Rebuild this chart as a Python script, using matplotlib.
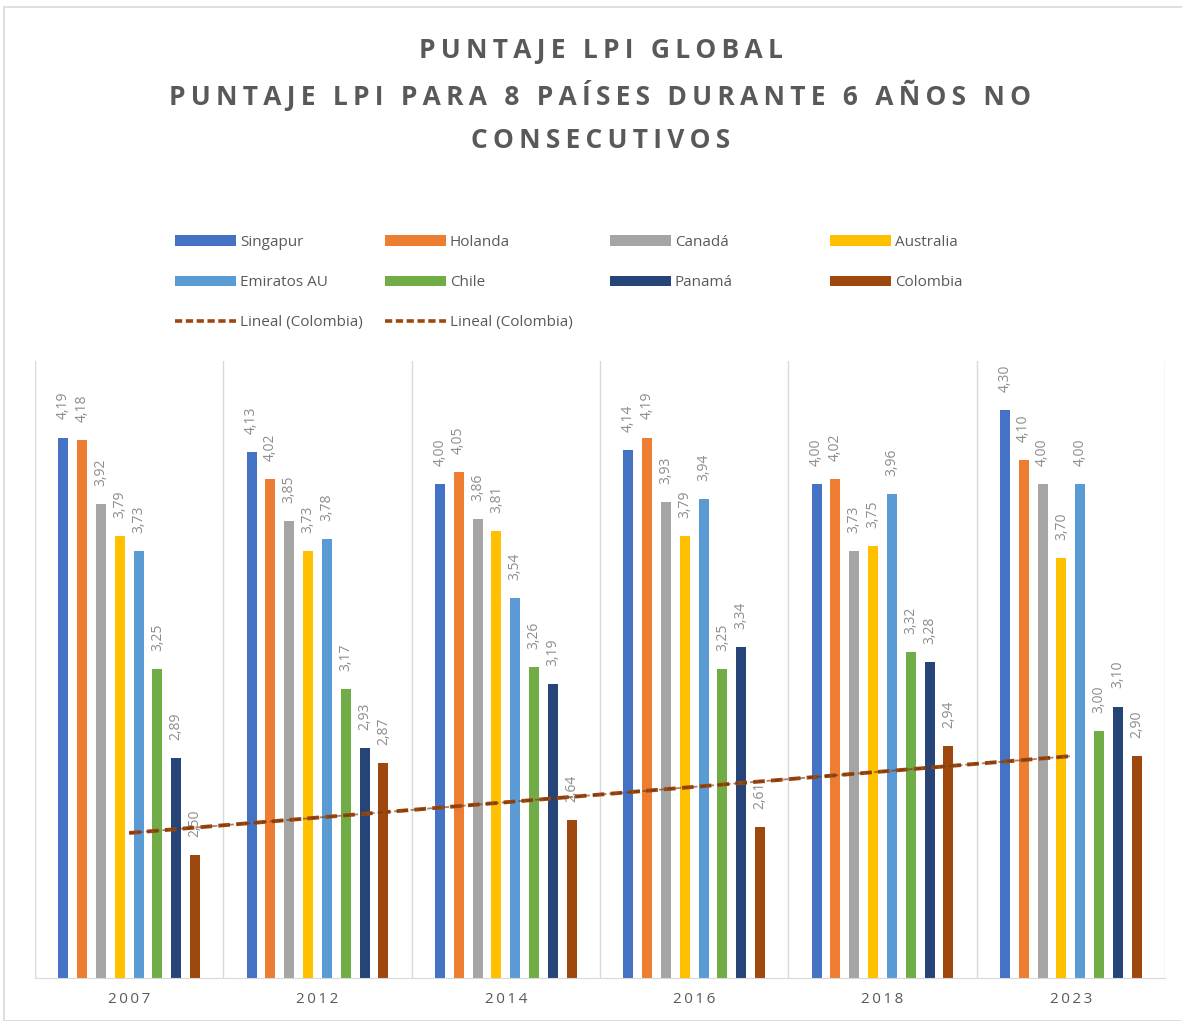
import numpy as np
import matplotlib
matplotlib.use("Agg")
import matplotlib.pyplot as plt
from matplotlib.patches import Patch, Rectangle
from matplotlib.lines import Line2D

plt.rcParams["font.family"] = ["Open Sans", "DejaVu Sans"]

# datos
years = ["2007", "2012", "2014", "2016", "2018", "2023"]
countries = ["Singapur", "Holanda", "Canadá", "Australia",
             "Emiratos AU", "Chile", "Panamá", "Colombia"]
singapur = [4.19, 4.13, 4.00, 4.14, 4.00, 4.30]
holanda = [4.18, 4.02, 4.05, 4.19, 4.02, 4.10]
canada = [3.92, 3.85, 3.86, 3.93, 3.73, 4.00]
australia = [3.79, 3.73, 3.81, 3.79, 3.75, 3.70]
emiratos = [3.73, 3.78, 3.54, 3.94, 3.96, 4.00]
chile = [3.25, 3.17, 3.26, 3.25, 3.32, 3.00]
panama = [2.89, 2.93, 3.19, 3.34, 3.28, 3.10]
colombia = [2.50, 2.87, 2.64, 2.61, 2.94, 2.90]
series = [singapur, holanda, canada, australia, emiratos, chile, panama, colombia]
colors = ["#4472C4", "#ED7D31", "#A5A5A5", "#FFC000",
          "#5B9BD5", "#70AD47", "#264478", "#9E480E"]

GRAY = "#595959"
LBL = "#8c8c8c"
THIN = "\u2009"


def spaced(s, sep=THIN):
    # simula el espaciado entre letras del titulo
    return sep.join(s)


fig = plt.figure(figsize=(11.82, 10.21), dpi=100)
fig.patches.append(Rectangle((4 / 1182, 0), 1, 1 - 7 / 1021, transform=fig.transFigure,
                             fill=False, edgecolor="#d9d9d9", lw=1.2))
ax = fig.add_axes([35 / 1182, 1 - 978 / 1021, 1130 / 1182, 617 / 1021])

x = np.arange(len(years))
slot = 0.1
bw = 0.053
for i, (vals, c) in enumerate(zip(series, colors)):
    xs = x + (i - 3.5) * slot
    ax.bar(xs, np.array(vals) - 2.0, bottom=2.0, width=bw, color=c, zorder=2)
    for xi, v in zip(xs, vals):
        ax.annotate(f"{v:.2f}".replace(".", ","), (xi, v), xytext=(0, 13),
                    textcoords="offset points", rotation=90, ha="center",
                    va="bottom", fontsize=10, color=LBL)

# tendencia lineal de Colombia
m, b = np.polyfit(x + 1, colombia, 1)
trend = m * (x + 1) + b
ax.plot([x[0], x[-1]], [trend[0], trend[-1]], color="#9E480E", lw=2.8,
        ls=(0, (3, 1.6)), zorder=3)
ax.plot([x[0], x[-1]], [trend[0], trend[-1]], color="#6b3414", lw=1.3,
        ls=(0, (3, 1.6)), zorder=3, alpha=0.6)

ax.set_xlim(-0.5, len(years) - 0.5)
ax.set_ylim(2.0, 4.5)
ax.set_yticks([])
ax.set_xticks(x)
ax.set_xticklabels([spaced(y) for y in years], fontsize=11, color=GRAY)
ax.tick_params(axis="x", length=0, pad=10)
for k in np.arange(-0.5, len(years), 1.0):
    ax.axvline(k, color="#d9d9d9", lw=1, zorder=1)
for s in ["top", "left", "right"]:
    ax.spines[s].set_visible(False)
ax.spines["bottom"].set_color("#d9d9d9")

# titulo
title_lines = ["PUNTAJE LPI GLOBAL",
               "PUNTAJE LPI PARA 8 PAÍSES DURANTE 6 AÑOS NO",
               "CONSECUTIVOS"]
for yy, t in zip([50, 95, 140], title_lines):
    fig.text(0.508, 1 - yy / 1021, spaced(t), ha="center", va="center",
             fontsize=19, fontweight="bold", color=GRAY)


# leyenda
def patch(c):
    return Patch(facecolor=c, edgecolor="none")


def dash():
    return Line2D([], [], color="#9E480E", lw=2.6, ls=(0, (2, 1)))


cols = [
    ([patch(colors[0]), patch(colors[4]), dash()],
     [countries[0], countries[4], "Lineal (Colombia)"], 175),
    ([patch(colors[1]), patch(colors[5]), dash()],
     [countries[1], countries[5], "Lineal (Colombia)"], 385),
    ([patch(colors[2]), patch(colors[6])], [countries[2], countries[6]], 610),
    ([patch(colors[3]), patch(colors[7])], [countries[3], countries[7]], 830),
]
for hs, ls, px in cols:
    leg = fig.legend(hs, ls, loc="upper left",
                     bbox_to_anchor=(px / 1182, 1 - 235 / 1021),
                     frameon=False, fontsize=11, handlelength=4.0,
                     handleheight=0.7, handletextpad=0.25,
                     labelspacing=1.65, borderaxespad=0, borderpad=0)
    for t in leg.get_texts():
        t.set_color(GRAY)

fig.savefig("out.png", dpi=100)
